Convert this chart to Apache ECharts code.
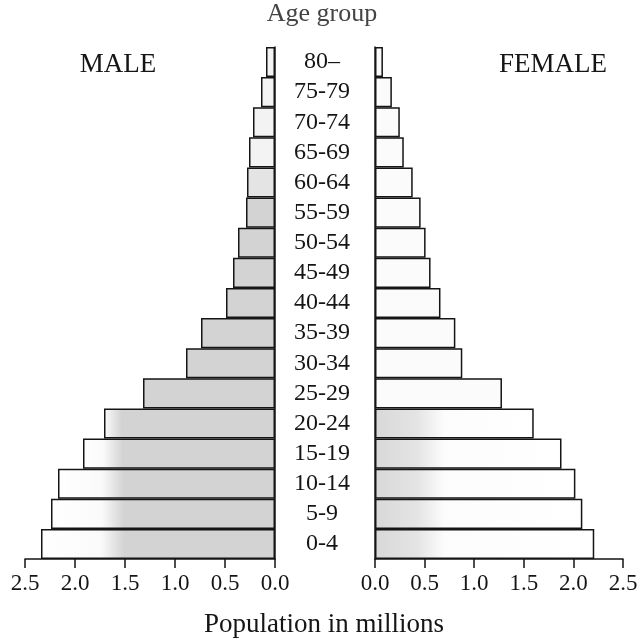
<!DOCTYPE html>
<html>
<head>
<meta charset="utf-8">
<script src="https://cdn.jsdelivr.net/npm/echarts@6/dist/echarts.min.js"></script>
<style>html,body{margin:0;padding:0;background:#fff;}#c{width:644px;height:641px;}</style>
</head>
<body>
<div id="c"></div>
<script>
const ageGroups = ['0-4','5-9','10-14','15-19','20-24','25-29','30-34','35-39','40-44','45-49','50-54','55-59','60-64','65-69','70-74','75-79','80–'];
const maleValues = [2.34,2.24,2.17,1.92,1.71,1.32,0.89,0.74,0.49,0.42,0.37,0.29,0.28,0.26,0.22,0.14,0.09];
const femaleValues = [2.21,2.09,2.02,1.88,1.60,1.28,0.88,0.81,0.66,0.56,0.51,0.46,0.38,0.29,0.25,0.17,0.08];
const axisMax = 2.5;
const axisStep = 0.5;

const FONT = '"Liberation Serif", "DejaVu Serif", serif';
const INK = '#151515';
const GRAY = '#d3d3d3';

function maleColor(v, i) {
  if (i >= 13) return '#f3f3f3';
  if (i === 12) return '#e4e4e4';
  const grayStart = 1.6;
  if (v <= grayStart) return GRAY;
  const off = (v - grayStart) / v;
  return new echarts.graphic.LinearGradient(0, 0, 1, 0, [
    {offset: 0, color: '#ffffff'},
    {offset: Math.max(0, off - 0.06), color: '#fafafa'},
    {offset: Math.min(1, off + 0.04), color: GRAY},
    {offset: 1, color: GRAY}
  ]);
}
function femaleColor(v, i) {
  if (i > 4) return '#fbfbfb';
  const end = Math.min(1, 0.7 / v);
  return new echarts.graphic.LinearGradient(0, 0, 1, 0, [
    {offset: 0, color: '#d8d8d8'},
    {offset: end * 0.6, color: '#e4e4e4'},
    {offset: end, color: '#fcfcfc'},
    {offset: 1, color: '#ffffff'}
  ]);
}

const chart = echarts.init(document.getElementById('c'));
const axisLabelStyle = {fontFamily: FONT, fontSize: 23, color: INK, margin: 13, formatter: v => v.toFixed(1)};
const xCommon = {
  type: 'value', min: 0, max: axisMax, interval: axisStep,
  axisLine: {show: true, lineStyle: {color: INK, width: 1.5}},
  axisTick: {show: true, length: 9, lineStyle: {color: INK, width: 1.5}},
  splitLine: {show: false},
  axisLabel: axisLabelStyle
};
chart.setOption({
  animation: false,
  grid: [
    {left: 25, right: 369, top: 47, bottom: 82},
    {left: 375, right: 21, top: 47, bottom: 82}
  ],
  xAxis: [
    Object.assign({gridIndex: 0, inverse: true}, xCommon),
    Object.assign({gridIndex: 1}, xCommon)
  ],
  yAxis: [
    {type: 'category', gridIndex: 0, data: ageGroups, position: 'right',
     axisLine: {show: true, lineStyle: {color: INK, width: 1.5}},
     axisTick: {show: false}, axisLabel: {show: false}},
    {type: 'category', gridIndex: 1, data: ageGroups, position: 'left',
     axisLine: {show: true, lineStyle: {color: INK, width: 1.5}},
     axisTick: {show: false},
     axisLabel: {show: true, interval: 0, hideOverlap: false, align: 'center', margin: 53, fontFamily: FONT, fontSize: 24, color: INK}}
  ],
  series: [
    {type: 'bar', xAxisIndex: 0, yAxisIndex: 0, barCategoryGap: '0%',
     data: maleValues.map((v, i) => ({value: v, itemStyle: {color: maleColor(v, i)}})),
     itemStyle: {borderColor: INK, borderWidth: 1.5}},
    {type: 'bar', xAxisIndex: 1, yAxisIndex: 1, barCategoryGap: '0%',
     data: femaleValues.map((v, i) => ({value: v, itemStyle: {color: femaleColor(v, i)}})),
     itemStyle: {borderColor: INK, borderWidth: 1.5}}
  ],
  graphic: [
    {type: 'text', x: 322, y: 14, style: {text: 'Age group', font: '26px ' + FONT, fill: '#444', textAlign: 'center', textVerticalAlign: 'middle'}},
    {type: 'text', x: 118, y: 65, style: {text: 'MALE', font: '27px ' + FONT, fill: INK, textAlign: 'center', textVerticalAlign: 'middle'}},
    {type: 'text', x: 553, y: 65, style: {text: 'FEMALE', font: '27px ' + FONT, fill: INK, textAlign: 'center', textVerticalAlign: 'middle'}},
    {type: 'text', x: 324, y: 625, style: {text: 'Population in millions', font: '27px ' + FONT, fill: INK, textAlign: 'center', textVerticalAlign: 'middle'}}
  ]
});
</script>
</body>
</html>
